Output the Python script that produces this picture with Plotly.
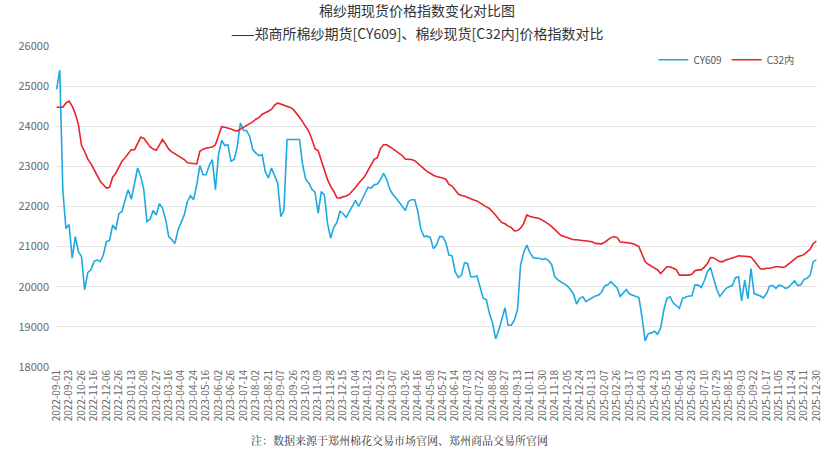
import plotly.graph_objects as go

tick_labels = [
    "2022-09-01", "2022-09-23", "2022-10-26", "2022-11-16", "2022-12-06", "2022-12-26",
    "2023-01-13", "2023-02-08", "2023-02-27", "2023-03-16", "2023-04-04", "2023-04-24",
    "2023-05-16", "2023-06-02", "2023-06-26", "2023-07-14", "2023-08-02", "2023-08-21",
    "2023-09-07", "2023-09-26", "2023-10-23", "2023-11-09", "2023-11-28", "2023-12-15",
    "2024-01-04", "2024-01-23", "2024-02-19", "2024-03-07", "2024-03-26", "2024-04-16",
    "2024-05-08", "2024-05-27", "2024-06-14", "2024-07-03", "2024-07-22", "2024-08-08",
    "2024-08-27", "2024-09-13", "2024-10-11", "2024-10-30", "2024-11-18", "2024-12-05",
    "2024-12-24", "2025-01-13", "2025-02-07", "2025-02-26", "2025-03-17", "2025-04-03",
    "2025-04-23", "2025-05-15", "2025-06-04", "2025-06-23", "2025-07-10", "2025-07-29",
    "2025-08-15", "2025-09-03", "2025-09-22", "2025-10-17", "2025-11-05", "2025-11-24",
    "2025-12-11", "2025-12-30",
]

# samples between labelled dates (4 samples per label interval)
cy609 = [
    24920, 25400, 22400, 21450, 21550, 20710, 21250, 20875, 20750, 19920,
    20350, 20420, 20625, 20670, 20625, 20790, 21125, 21150, 21540, 21420,
    21820, 21875, 22170, 22420, 22180, 22570, 22960, 22750, 22420, 21625,
    21680, 21900, 21790, 22070, 21960, 21680, 21250, 21170, 21080, 21420,
    21600, 21790, 22125, 22270, 22170, 22540, 23020, 22790, 22790, 23020,
    23170, 22420, 23290, 23650, 23520, 23540, 23125, 23170, 23480, 24080,
    23900, 23890, 23750, 23420, 23330, 23270, 23290, 22875, 22710, 22960,
    22770, 22580, 21750, 21900, 23670, 23670, 23670, 23670, 23670, 23040,
    22680, 22580, 22430, 22350, 21830, 22370, 22290, 21580, 21210, 21480,
    21600, 21880, 21820, 21730, 21880, 22000, 22150, 22000, 22150, 22320,
    22480, 22460, 22540, 22560, 22670, 22830, 22670, 22430, 22300, 22210,
    22100, 22020, 21900, 22125, 22170, 22170, 21875, 21430, 21250, 21260,
    21230, 20950, 21040, 21250, 21250, 21100, 20790, 20770, 20375, 20230,
    20290, 20600, 20580, 20250, 20250, 20270, 20000, 19710, 19680, 19330,
    19100, 18700, 18920, 19225, 19475, 19040, 19040, 19170, 19420, 20540,
    20850, 21040, 20850, 20730, 20710, 20710, 20680, 20700, 20650, 20550,
    20250, 20170, 20125, 20080, 20020, 19930, 19820, 19570, 19710, 19750,
    19630, 19680, 19725, 19770, 19790, 19860, 20020, 20050, 20125, 20050,
    19970, 19760, 19840, 19930, 19820, 19790, 19750, 19730, 19250, 18650,
    18830, 18850, 18890, 18820, 18970, 19420, 19710, 19750, 19600, 19520,
    19460, 19710, 19750, 19770, 19770, 20040, 20040, 19980, 20150, 20375,
    20480, 20230, 19930, 19760, 19875, 19960, 20000, 20030, 20225, 20250,
    19650, 20170, 19700, 20450, 19830, 19800, 19770, 19720, 19830, 20020,
    20030, 19960, 20040, 20020, 19960, 19980, 20075, 20150, 20030, 20050,
    20180, 20210, 20290, 20625, 20670,
]

c32 = [
    24475, 24475, 24475, 24580, 24625, 24500, 24310, 24040, 23520, 23375,
    23180, 23070, 22920, 22770, 22630, 22540, 22460, 22480, 22730, 22830,
    22975, 23130, 23215, 23325, 23420, 23410, 23580, 23725, 23700, 23580,
    23490, 23430, 23400, 23530, 23670, 23560, 23430, 23360, 23310, 23275,
    23225, 23170, 23090, 23075, 23060, 23060, 23375, 23430, 23450, 23460,
    23480, 23540, 23790, 23990, 23975, 23960, 23930, 23900, 23880, 23930,
    23970, 24020, 24060, 24110, 24175, 24215, 24300, 24330, 24375, 24420,
    24530, 24580, 24550, 24525, 24500, 24470, 24420, 24330, 24225, 24110,
    24000, 23875, 23670, 23440, 23390, 23150, 22900, 22670, 22500, 22380,
    22220, 22210, 22240, 22260, 22300, 22380, 22480, 22580, 22660, 22750,
    22900, 23040, 23175, 23215, 23450, 23540, 23540, 23490, 23425, 23380,
    23325, 23270, 23180, 23175, 23170, 23140, 23080, 23020, 22940, 22875,
    22820, 22780, 22750, 22735, 22710, 22680, 22550, 22510, 22400, 22310,
    22275, 22260, 22225, 22190, 22160, 22140, 22090, 22020, 21990, 21950,
    21870, 21780, 21680, 21600, 21570, 21510, 21480, 21390, 21400, 21460,
    21580, 21790, 21750, 21730, 21725, 21700, 21660, 21620, 21560, 21500,
    21420, 21330, 21275, 21250, 21220, 21190, 21170, 21170, 21160, 21140,
    21140, 21130, 21120, 21080, 21070, 21070, 21110, 21170, 21225, 21250,
    21225, 21115, 21100, 21100, 21090, 21075, 21040, 21000, 20810, 20630,
    20560, 20510, 20480, 20420, 20330, 20420, 20500, 20500, 20460, 20425,
    20290, 20290, 20290, 20290, 20310, 20400, 20420, 20420, 20490, 20580,
    20730, 20725, 20670, 20625, 20625, 20670, 20690, 20710, 20740, 20770,
    20770, 20760, 20750, 20740, 20650, 20540, 20450, 20440, 20460, 20460,
    20480, 20500, 20500, 20480, 20500, 20560, 20620, 20690, 20750, 20775,
    20800, 20870, 20935, 21080, 21140,
]

y_ticks = [18000, 19000, 20000, 21000, 22000, 23000, 24000, 25000, 26000]

title_line1 = "棉纱期现货价格指数变化对比图"
title_line2 = "——郑商所棉纱期货[CY609]、棉纱现货[C32内]价格指数对比"
footnote = "注：数据来源于郑州棉花交易市场官网、郑州商品交易所官网"

step = (len(cy609) - 1) // (len(tick_labels) - 1)
x_idx = list(range(len(cy609)))
tick_vals = list(range(0, len(cy609), step))

FONT = "Noto Sans CJK SC, Microsoft YaHei, sans-serif"

fig = go.Figure()
fig.add_trace(go.Scatter(
    x=x_idx, y=cy609, mode="lines", name="CY609",
    line=dict(color="#1fa9e1", width=1.6),
))
fig.add_trace(go.Scatter(
    x=x_idx, y=c32, mode="lines", name="C32内",
    line=dict(color="#e8232b", width=1.6),
))

fig.update_layout(
    width=831, height=457,
    margin=dict(l=56, r=8, t=46, b=90),
    paper_bgcolor="white", plot_bgcolor="white",
    font=dict(family=FONT, color="#666666", size=11),
    showlegend=True,
    legend=dict(
        orientation="h", x=0.785, xanchor="left", y=0.957, yanchor="middle",
        font=dict(size=10, color="#555555"), bgcolor="rgba(0,0,0,0)",
        itemwidth=30, tracegroupgap=0,
    ),
    xaxis=dict(
        range=[-0.2, len(cy609) - 0.8],
        tickmode="array", tickvals=tick_vals, ticktext=tick_labels,
        tickangle=-90, tickfont=dict(size=10, color="#666666"),
        showgrid=False, zeroline=False, showline=False, ticks="",
    ),
    yaxis=dict(
        range=[18000, 26000], tickmode="array", tickvals=y_ticks,
        ticktext=[str(v) for v in y_ticks],
        tickfont=dict(size=11, color="#666666"),
        showgrid=True, gridcolor="#e6e6e6", gridwidth=1,
        zeroline=False, showline=False, ticks="", ticklabelstandoff=6,
    ),
)

fig.add_annotation(
    text=title_line1, xref="paper", yref="paper", x=0.4746, y=1, yshift=24,
    xanchor="center", yanchor="bottom", showarrow=False,
    font=dict(size=14, color="#333333", family=FONT),
)
fig.add_annotation(
    text=title_line2, xref="paper", yref="paper", x=0.4746, y=1, yshift=1,
    xanchor="center", yanchor="bottom", showarrow=False,
    font=dict(size=14, color="#333333", family=FONT),
)
fig.add_annotation(
    text=footnote, xref="paper", yref="paper", x=0.452, y=0, yshift=-73,
    xanchor="center", yanchor="middle", showarrow=False,
    font=dict(size=11, color="#333333", family="Noto Serif CJK SC, Noto Sans CJK SC, serif"),
)

fig.write_html(
    "out.html",
    config={"displayModeBar": False},
    post_script="document.body.style.margin='0';",
)
